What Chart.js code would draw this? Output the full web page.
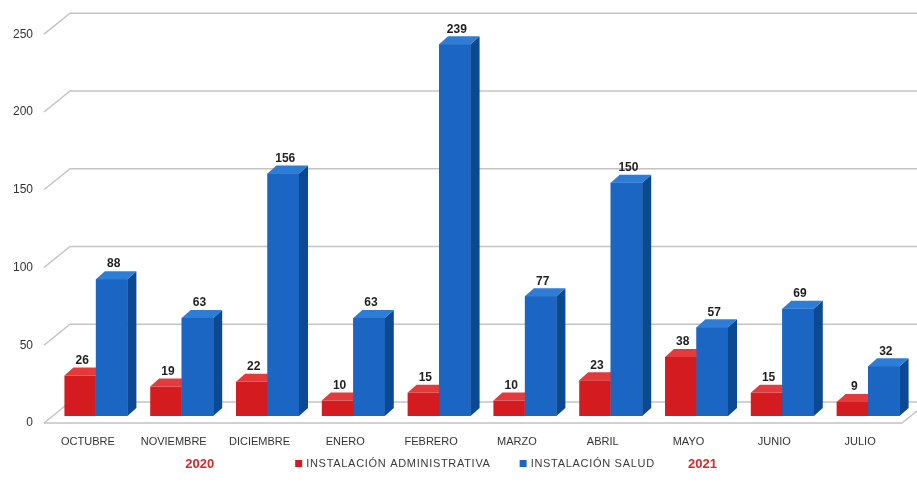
<!DOCTYPE html>
<html>
<head>
<meta charset="utf-8">
<script src="https://cdn.jsdelivr.net/npm/chart.js@4.4.1/dist/chart.umd.min.js"></script>
<style>
  html, body { margin: 0; padding: 0; background: #fff; }
  #wrap { width: 917px; height: 485px; }
</style>
</head>
<body>
<div id="wrap"><canvas id="chart"></canvas></div>
<script>
// datos
const meses = ['OCTUBRE', 'NOVIEMBRE', 'DICIEMBRE', 'ENERO', 'FEBRERO', 'MARZO', 'ABRIL', 'MAYO', 'JUNIO', 'JULIO'];
const administrativa = [26, 19, 22, 10, 15, 10, 23, 38, 15, 9];
const salud = [88, 63, 156, 63, 239, 77, 150, 57, 69, 32];
const yTicks = [0, 50, 100, 150, 200, 250];
const anios = ['2020', '2021'];
const anioMes = [1, 7]; // mes bajo el que va cada año

const FONT = "'Liberation Sans', Arial, sans-serif";
const DX = 9, DY = 8;            // profundidad de las barras
const BACK = 14, FRONT = 7;      // desplazamiento de la rejilla (fondo / frente)

const colores = {
    rojo: { front: '#d41c20', side: '#9a1115', top: '#e43a3c' },
    azul: { front: '#1a66c2', side: '#0b4a92', top: '#2d7cd6' }
};

function poly(ctx, pts, fill) {
    ctx.beginPath();
    ctx.moveTo(pts[0][0], pts[0][1]);
    for (let i = 1; i < pts.length; i++) ctx.lineTo(pts[i][0], pts[i][1]);
    ctx.closePath();
    ctx.fillStyle = fill;
    ctx.fill();
}

function barra3d(ctx, el, c, front) {
    const p = el.getProps(['x', 'y', 'base', 'width'], true);
    const x0 = p.x - p.width / 2, x1 = p.x + p.width / 2;
    if (front) {
        ctx.fillStyle = c.front;
        ctx.fillRect(x0, p.y, x1 - x0, p.base - p.y);
    }
    poly(ctx, [[x1, p.y], [x1 + DX, p.y - DY], [x1 + DX, p.base - DY], [x1, p.base]], c.side);
    poly(ctx, [[x0, p.y], [x1, p.y], [x1 + DX, p.y - DY], [x0 + DX, p.y - DY]], c.top);
}

const rejilla = {
    id: 'rejilla',
    beforeDatasetsDraw(chart) {
        const ctx = chart.ctx, y = chart.scales.y, area = chart.chartArea;
        const xf = 44, xb = 70;
        ctx.save();
        ctx.strokeStyle = '#c4c4c4';
        ctx.lineWidth = 1.5;
        yTicks.forEach(v => {
            const py = y.getPixelForValue(v);
            ctx.beginPath();
            ctx.moveTo(xf, py + FRONT);
            ctx.lineTo(xb, py - BACK);
            ctx.lineTo(chart.width, py - BACK);
            ctx.stroke();
        });
        // suelo
        const p0 = y.getPixelForValue(0);
        ctx.beginPath();
        ctx.moveTo(xf, p0 + FRONT);
        ctx.lineTo(area.right - 9, p0 + FRONT);
        ctx.lineTo(area.right - 9 + (xb - xf), p0 - BACK);
        ctx.stroke();
        ctx.restore();
    },
    afterDatasetsDraw(chart) {
        const ctx = chart.ctx;
        const rojas = chart.getDatasetMeta(0).data;
        const azules = chart.getDatasetMeta(1).data;
        ctx.save();
        for (let i = 0; i < meses.length; i++) {
            barra3d(ctx, rojas[i], colores.rojo, false);
            barra3d(ctx, azules[i], colores.azul, true);
        }
        // valores
        ctx.font = 'bold 12px ' + FONT;
        ctx.fillStyle = '#1e1e1e';
        ctx.textAlign = 'center';
        ctx.textBaseline = 'bottom';
        [[rojas, administrativa], [azules, salud]].forEach(([els, vals]) => {
            els.forEach((el, i) => {
                const p = el.getProps(['x', 'y'], true);
                ctx.fillText(String(vals[i]), p.x + 2, p.y - DY - 1);
            });
        });
        // años
        const xs = chart.scales.x;
        const ajuste = [26, 14];
        ctx.font = 'bold 13px ' + FONT;
        ctx.fillStyle = '#d42a2a';
        ctx.textBaseline = 'middle';
        anios.forEach((a, k) => {
            ctx.fillText(a, xs.getPixelForValue(anioMes[k]) - 8 + ajuste[k], 464);
        });
        // leyenda
        const items = chart.data.datasets.map(d => ({ text: d.label, color: d.backgroundColor }));
        ctx.font = '11px ' + FONT;
        ctx.letterSpacing = '0.7px';
        ctx.textAlign = 'left';
        const widths = items.map(it => ctx.measureText(it.text).width);
        const total = items.reduce((s, it, k) => s + 11 + widths[k], 0) + 29;
        let x = 475 - total / 2;
        items.forEach((it, k) => {
            ctx.fillStyle = it.color;
            ctx.fillRect(x, 460, 7, 7);
            ctx.fillStyle = '#3a3a3a';
            ctx.fillText(it.text, x + 11, 464);
            x += 11 + widths[k] + 29;
        });
        ctx.restore();
    }
};

const ctx = document.getElementById('chart');
new Chart(ctx, {
    type: 'bar',
    data: {
        labels: meses,
        datasets: [{
            label: 'INSTALACIÓN ADMINISTRATIVA',
            data: administrativa,
            backgroundColor: colores.rojo.front,
            borderWidth: 0,
            categoryPercentage: 0.734,
            barPercentage: 1
        }, {
            label: 'INSTALACIÓN SALUD',
            data: salud,
            backgroundColor: colores.azul.front,
            borderWidth: 0,
            categoryPercentage: 0.734,
            barPercentage: 1
        }]
    },
    options: {
        responsive: true,
        maintainAspectRatio: false,
        animation: false,
        layout: { padding: { left: 0, right: 6, top: 24, bottom: 0 } },
        plugins: {
            legend: { display: false },
            tooltip: { enabled: false }
        },
        scales: {
            x: {
                grid: { display: false, drawTicks: false },
                border: { display: false },
                ticks: {
                    color: '#333',
                    font: { family: FONT, size: 11 },
                    padding: 19,
                    labelOffset: -8,
                    maxRotation: 0,
                    autoSkip: false
                },
                afterFit(scale) { scale.height = 69; }
            },
            y: {
                min: 0,
                max: 250,
                grid: { display: false, drawTicks: false },
                border: { display: false },
                ticks: {
                    stepSize: 50,
                    color: '#333',
                    font: { family: FONT, size: 12 },
                    padding: 20,
                    labelOffset: 7
                },
                afterFit(scale) { scale.width = 53; }
            }
        }
    },
    plugins: [rejilla]
});
</script>
</body>
</html>
